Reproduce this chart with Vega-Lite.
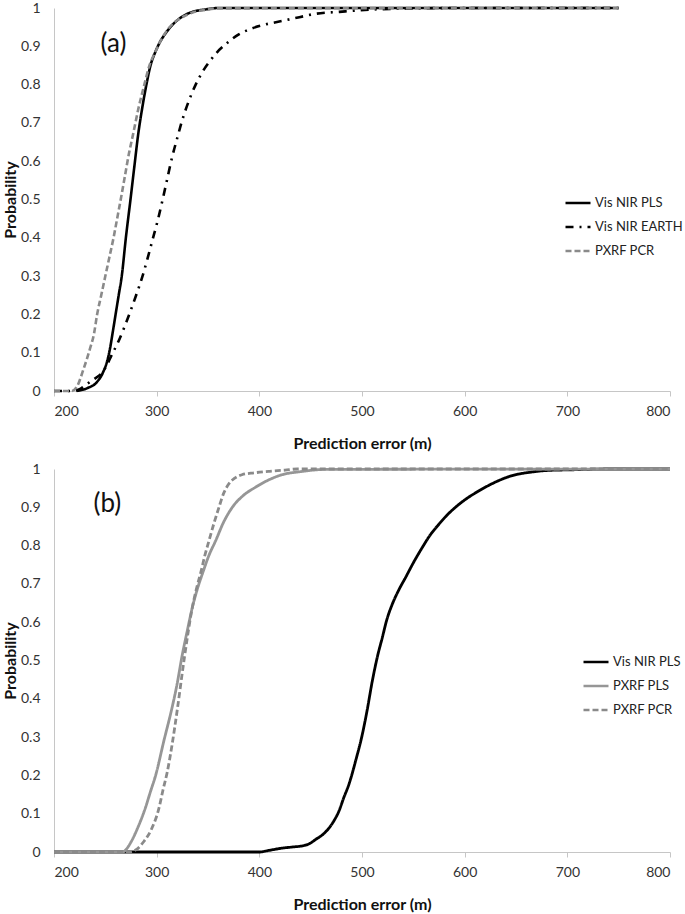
{
  "$schema": "https://vega.github.io/schema/vega-lite/v6.json",
  "padding": {"left": 2, "top": 1, "right": 0, "bottom": 5},
  "bounds": "flush",
  "spacing": 78,
  "config": {
    "font": "Lato",
    "view": {"stroke": null},
    "axis": {"grid": false, "domainColor": "#c6c6c6", "tickColor": "#c6c6c6", "labelFont": "Lato", "labelFontSize": 14, "labelColor": "#333333", "labelOverlap": false, "titleFont": "Lato", "titleFontSize": 16, "titleFontWeight": "bold", "titleColor": "#111111"},
    "legend": {"orient": "none", "symbolType": "stroke", "symbolSize": 625, "symbolStrokeWidth": 2.5, "labelFont": "Lato", "labelFontSize": 13, "labelColor": "#222222", "labelOffset": 3, "rowPadding": 3, "padding": 0, "title": null, "labelLimit": 0}
  },
  "datasets": {
    "top": [
      {"s": "Vis NIR PLS", "e": 222, "p": 0}, {"s": "Vis NIR PLS", "e": 232, "p": 0.007}, {"s": "Vis NIR PLS", "e": 242, "p": 0.024}, {"s": "Vis NIR PLS", "e": 248, "p": 0.05}, {"s": "Vis NIR PLS", "e": 252, "p": 0.08}, {"s": "Vis NIR PLS", "e": 254.5, "p": 0.11}, {"s": "Vis NIR PLS", "e": 257, "p": 0.15}, {"s": "Vis NIR PLS", "e": 260, "p": 0.2}, {"s": "Vis NIR PLS", "e": 263, "p": 0.25}, {"s": "Vis NIR PLS", "e": 266, "p": 0.3}, {"s": "Vis NIR PLS", "e": 270, "p": 0.4}, {"s": "Vis NIR PLS", "e": 274.5, "p": 0.5}, {"s": "Vis NIR PLS", "e": 278, "p": 0.58}, {"s": "Vis NIR PLS", "e": 282, "p": 0.67}, {"s": "Vis NIR PLS", "e": 286, "p": 0.74}, {"s": "Vis NIR PLS", "e": 290, "p": 0.8}, {"s": "Vis NIR PLS", "e": 294, "p": 0.85}, {"s": "Vis NIR PLS", "e": 299, "p": 0.887}, {"s": "Vis NIR PLS", "e": 304, "p": 0.915}, {"s": "Vis NIR PLS", "e": 309, "p": 0.935}, {"s": "Vis NIR PLS", "e": 315, "p": 0.955}, {"s": "Vis NIR PLS", "e": 322, "p": 0.972}, {"s": "Vis NIR PLS", "e": 330, "p": 0.985}, {"s": "Vis NIR PLS", "e": 338, "p": 0.992}, {"s": "Vis NIR PLS", "e": 347, "p": 0.996}, {"s": "Vis NIR PLS", "e": 360, "p": 1}, {"s": "Vis NIR PLS", "e": 750, "p": 1},
      {"s": "Vis NIR EARTH", "e": 200, "p": 0}, {"s": "Vis NIR EARTH", "e": 218, "p": 0}, {"s": "Vis NIR EARTH", "e": 226, "p": 0.006}, {"s": "Vis NIR EARTH", "e": 232, "p": 0.018}, {"s": "Vis NIR EARTH", "e": 239, "p": 0.031}, {"s": "Vis NIR EARTH", "e": 246, "p": 0.045}, {"s": "Vis NIR EARTH", "e": 251, "p": 0.065}, {"s": "Vis NIR EARTH", "e": 256, "p": 0.093}, {"s": "Vis NIR EARTH", "e": 262, "p": 0.125}, {"s": "Vis NIR EARTH", "e": 268, "p": 0.163}, {"s": "Vis NIR EARTH", "e": 274, "p": 0.205}, {"s": "Vis NIR EARTH", "e": 280, "p": 0.25}, {"s": "Vis NIR EARTH", "e": 286, "p": 0.298}, {"s": "Vis NIR EARTH", "e": 291, "p": 0.345}, {"s": "Vis NIR EARTH", "e": 296, "p": 0.395}, {"s": "Vis NIR EARTH", "e": 301, "p": 0.445}, {"s": "Vis NIR EARTH", "e": 305.5, "p": 0.496}, {"s": "Vis NIR EARTH", "e": 310, "p": 0.55}, {"s": "Vis NIR EARTH", "e": 315, "p": 0.61}, {"s": "Vis NIR EARTH", "e": 320, "p": 0.66}, {"s": "Vis NIR EARTH", "e": 325, "p": 0.708}, {"s": "Vis NIR EARTH", "e": 331, "p": 0.755}, {"s": "Vis NIR EARTH", "e": 338, "p": 0.8}, {"s": "Vis NIR EARTH", "e": 345, "p": 0.835}, {"s": "Vis NIR EARTH", "e": 352, "p": 0.862}, {"s": "Vis NIR EARTH", "e": 359, "p": 0.885}, {"s": "Vis NIR EARTH", "e": 367, "p": 0.905}, {"s": "Vis NIR EARTH", "e": 380, "p": 0.931}, {"s": "Vis NIR EARTH", "e": 393, "p": 0.947}, {"s": "Vis NIR EARTH", "e": 406, "p": 0.957}, {"s": "Vis NIR EARTH", "e": 422, "p": 0.966}, {"s": "Vis NIR EARTH", "e": 439, "p": 0.976}, {"s": "Vis NIR EARTH", "e": 455, "p": 0.985}, {"s": "Vis NIR EARTH", "e": 478, "p": 0.99}, {"s": "Vis NIR EARTH", "e": 510, "p": 0.996}, {"s": "Vis NIR EARTH", "e": 552, "p": 0.999}, {"s": "Vis NIR EARTH", "e": 600, "p": 1}, {"s": "Vis NIR EARTH", "e": 750, "p": 1},
      {"s": "PXRF PCR", "e": 200, "p": 0}, {"s": "PXRF PCR", "e": 217, "p": 0}, {"s": "PXRF PCR", "e": 222, "p": 0.01}, {"s": "PXRF PCR", "e": 229, "p": 0.059}, {"s": "PXRF PCR", "e": 235, "p": 0.11}, {"s": "PXRF PCR", "e": 239, "p": 0.15}, {"s": "PXRF PCR", "e": 242, "p": 0.2}, {"s": "PXRF PCR", "e": 246, "p": 0.25}, {"s": "PXRF PCR", "e": 250, "p": 0.3}, {"s": "PXRF PCR", "e": 254, "p": 0.35}, {"s": "PXRF PCR", "e": 258, "p": 0.4}, {"s": "PXRF PCR", "e": 261.5, "p": 0.45}, {"s": "PXRF PCR", "e": 265, "p": 0.5}, {"s": "PXRF PCR", "e": 269, "p": 0.56}, {"s": "PXRF PCR", "e": 273, "p": 0.62}, {"s": "PXRF PCR", "e": 277, "p": 0.67}, {"s": "PXRF PCR", "e": 282, "p": 0.735}, {"s": "PXRF PCR", "e": 288, "p": 0.8}, {"s": "PXRF PCR", "e": 293, "p": 0.85}, {"s": "PXRF PCR", "e": 299, "p": 0.887}, {"s": "PXRF PCR", "e": 305, "p": 0.92}, {"s": "PXRF PCR", "e": 312, "p": 0.948}, {"s": "PXRF PCR", "e": 320, "p": 0.968}, {"s": "PXRF PCR", "e": 328, "p": 0.98}, {"s": "PXRF PCR", "e": 337, "p": 0.99}, {"s": "PXRF PCR", "e": 347, "p": 0.995}, {"s": "PXRF PCR", "e": 360, "p": 0.999}, {"s": "PXRF PCR", "e": 750, "p": 1}
    ],
    "bottom": [
      {"s": "Vis NIR PLS", "e": 200, "p": 0}, {"s": "Vis NIR PLS", "e": 400, "p": 0}, {"s": "Vis NIR PLS", "e": 409, "p": 0.004}, {"s": "Vis NIR PLS", "e": 422, "p": 0.01}, {"s": "Vis NIR PLS", "e": 432, "p": 0.013}, {"s": "Vis NIR PLS", "e": 442, "p": 0.016}, {"s": "Vis NIR PLS", "e": 449, "p": 0.022}, {"s": "Vis NIR PLS", "e": 455, "p": 0.033}, {"s": "Vis NIR PLS", "e": 462, "p": 0.046}, {"s": "Vis NIR PLS", "e": 468, "p": 0.063}, {"s": "Vis NIR PLS", "e": 473, "p": 0.083}, {"s": "Vis NIR PLS", "e": 477.6, "p": 0.107}, {"s": "Vis NIR PLS", "e": 482, "p": 0.14}, {"s": "Vis NIR PLS", "e": 487.3, "p": 0.177}, {"s": "Vis NIR PLS", "e": 494, "p": 0.24}, {"s": "Vis NIR PLS", "e": 500.3, "p": 0.307}, {"s": "Vis NIR PLS", "e": 505, "p": 0.37}, {"s": "Vis NIR PLS", "e": 510, "p": 0.446}, {"s": "Vis NIR PLS", "e": 515, "p": 0.51}, {"s": "Vis NIR PLS", "e": 519.8, "p": 0.56}, {"s": "Vis NIR PLS", "e": 524, "p": 0.605}, {"s": "Vis NIR PLS", "e": 529.5, "p": 0.647}, {"s": "Vis NIR PLS", "e": 536, "p": 0.685}, {"s": "Vis NIR PLS", "e": 542.5, "p": 0.717}, {"s": "Vis NIR PLS", "e": 550, "p": 0.755}, {"s": "Vis NIR PLS", "e": 558.7, "p": 0.795}, {"s": "Vis NIR PLS", "e": 566, "p": 0.826}, {"s": "Vis NIR PLS", "e": 575, "p": 0.856}, {"s": "Vis NIR PLS", "e": 583, "p": 0.88}, {"s": "Vis NIR PLS", "e": 591, "p": 0.9}, {"s": "Vis NIR PLS", "e": 602, "p": 0.923}, {"s": "Vis NIR PLS", "e": 614, "p": 0.943}, {"s": "Vis NIR PLS", "e": 624, "p": 0.958}, {"s": "Vis NIR PLS", "e": 633.4, "p": 0.97}, {"s": "Vis NIR PLS", "e": 643, "p": 0.98}, {"s": "Vis NIR PLS", "e": 653, "p": 0.987}, {"s": "Vis NIR PLS", "e": 665, "p": 0.992}, {"s": "Vis NIR PLS", "e": 679, "p": 0.996}, {"s": "Vis NIR PLS", "e": 705, "p": 0.998}, {"s": "Vis NIR PLS", "e": 740, "p": 1}, {"s": "Vis NIR PLS", "e": 800, "p": 1},
      {"s": "PXRF PLS", "e": 200, "p": 0}, {"s": "PXRF PLS", "e": 267, "p": 0}, {"s": "PXRF PLS", "e": 270, "p": 0.006}, {"s": "PXRF PLS", "e": 275, "p": 0.026}, {"s": "PXRF PLS", "e": 282, "p": 0.066}, {"s": "PXRF PLS", "e": 289, "p": 0.115}, {"s": "PXRF PLS", "e": 294, "p": 0.158}, {"s": "PXRF PLS", "e": 299, "p": 0.2}, {"s": "PXRF PLS", "e": 307, "p": 0.29}, {"s": "PXRF PLS", "e": 315, "p": 0.377}, {"s": "PXRF PLS", "e": 320, "p": 0.44}, {"s": "PXRF PLS", "e": 324.4, "p": 0.507}, {"s": "PXRF PLS", "e": 330, "p": 0.58}, {"s": "PXRF PLS", "e": 334.7, "p": 0.638}, {"s": "PXRF PLS", "e": 340, "p": 0.69}, {"s": "PXRF PLS", "e": 345, "p": 0.73}, {"s": "PXRF PLS", "e": 351, "p": 0.775}, {"s": "PXRF PLS", "e": 357.5, "p": 0.813}, {"s": "PXRF PLS", "e": 365, "p": 0.86}, {"s": "PXRF PLS", "e": 373.7, "p": 0.9}, {"s": "PXRF PLS", "e": 384, "p": 0.93}, {"s": "PXRF PLS", "e": 396, "p": 0.952}, {"s": "PXRF PLS", "e": 408, "p": 0.97}, {"s": "PXRF PLS", "e": 422, "p": 0.985}, {"s": "PXRF PLS", "e": 440, "p": 0.993}, {"s": "PXRF PLS", "e": 465, "p": 0.999}, {"s": "PXRF PLS", "e": 800, "p": 1},
      {"s": "PXRF PCR", "e": 200, "p": 0}, {"s": "PXRF PCR", "e": 275, "p": 0}, {"s": "PXRF PCR", "e": 280, "p": 0.006}, {"s": "PXRF PCR", "e": 287.7, "p": 0.028}, {"s": "PXRF PCR", "e": 295, "p": 0.06}, {"s": "PXRF PCR", "e": 302.3, "p": 0.115}, {"s": "PXRF PCR", "e": 306, "p": 0.16}, {"s": "PXRF PCR", "e": 310.4, "p": 0.21}, {"s": "PXRF PCR", "e": 315, "p": 0.28}, {"s": "PXRF PCR", "e": 320, "p": 0.37}, {"s": "PXRF PCR", "e": 326.6, "p": 0.5}, {"s": "PXRF PCR", "e": 334.7, "p": 0.638}, {"s": "PXRF PCR", "e": 339, "p": 0.69}, {"s": "PXRF PCR", "e": 343, "p": 0.73}, {"s": "PXRF PCR", "e": 347, "p": 0.775}, {"s": "PXRF PCR", "e": 351, "p": 0.813}, {"s": "PXRF PCR", "e": 356, "p": 0.86}, {"s": "PXRF PCR", "e": 360.7, "p": 0.9}, {"s": "PXRF PCR", "e": 365, "p": 0.935}, {"s": "PXRF PCR", "e": 370, "p": 0.96}, {"s": "PXRF PCR", "e": 376, "p": 0.976}, {"s": "PXRF PCR", "e": 383, "p": 0.985}, {"s": "PXRF PCR", "e": 395, "p": 0.99}, {"s": "PXRF PCR", "e": 410, "p": 0.994}, {"s": "PXRF PCR", "e": 425, "p": 0.997}, {"s": "PXRF PCR", "e": 437, "p": 1}, {"s": "PXRF PCR", "e": 800, "p": 1}
    ]
  },
  "resolve": {"scale": {"color": "independent", "strokeDash": "independent"}, "legend": {"color": "independent", "strokeDash": "independent"}},
  "vconcat": [
    {
      "width": 616, "height": 383,
      "layer": [
        {
          "data": {"name": "top"},
          "mark": {"type": "line", "strokeWidth": 2.6, "interpolate": "monotone"},
          "encoding": {
            "x": {"field": "e", "type": "quantitative", "scale": {"domain": [200, 800], "nice": false}, "axis": {"values": [200, 300, 400, 500, 600, 700, 800], "title": "Prediction error (m)", "tickSize": 5, "labelPadding": 8, "titlePadding": 17, "labelOverlap": false}},
            "y": {"field": "p", "type": "quantitative", "scale": {"domain": [0, 1], "nice": false}, "axis": {"values": [0, 0.1, 0.2, 0.3, 0.4, 0.5, 0.6, 0.7, 0.8, 0.9, 1], "format": ".1~f", "title": "Probability", "ticks": false, "labelPadding": 14, "titlePadding": 2, "labelOverlap": false, "tickCount": 11}},
            "color": {"field": "s", "type": "nominal", "scale": {"domain": ["Vis NIR PLS", "Vis NIR EARTH", "PXRF PCR"], "range": ["#000000", "#000000", "#8a8a8a"]}, "legend": {"legendX": 510, "legendY": 181}},
            "strokeDash": {"field": "s", "type": "nominal", "scale": {"domain": ["Vis NIR PLS", "Vis NIR EARTH", "PXRF PCR"], "range": [[1, 0], [8, 6, 2, 6], [6, 3]]}, "legend": {"legendX": 510, "legendY": 181}}
          }
        },
        {
          "data": {"values": [{"t": "(a)", "e": 258, "p": 0.905}]},
          "mark": {"type": "text", "fontSize": 26, "font": "Lato", "color": "#111111"},
          "encoding": {"x": {"field": "e", "type": "quantitative"}, "y": {"field": "p", "type": "quantitative"}, "text": {"field": "t"}}
        }
      ]
    },
    {
      "width": 616, "height": 383,
      "layer": [
        {
          "data": {"name": "bottom"},
          "mark": {"type": "line", "strokeWidth": 2.8, "interpolate": "monotone"},
          "encoding": {
            "x": {"field": "e", "type": "quantitative", "scale": {"domain": [200, 800], "nice": false}, "axis": {"values": [200, 300, 400, 500, 600, 700, 800], "title": "Prediction error (m)", "tickSize": 5, "labelPadding": 8, "titlePadding": 17, "labelOverlap": false}},
            "y": {"field": "p", "type": "quantitative", "scale": {"domain": [0, 1], "nice": false}, "axis": {"values": [0, 0.1, 0.2, 0.3, 0.4, 0.5, 0.6, 0.7, 0.8, 0.9, 1], "format": ".1~f", "title": "Probability", "ticks": false, "labelPadding": 14, "titlePadding": 2, "labelOverlap": false, "tickCount": 11}},
            "color": {"field": "s", "type": "nominal", "scale": {"domain": ["Vis NIR PLS", "PXRF PLS", "PXRF PCR"], "range": ["#000000", "#969696", "#8a8a8a"]}, "legend": {"legendX": 528, "legendY": 179}},
            "strokeDash": {"field": "s", "type": "nominal", "scale": {"domain": ["Vis NIR PLS", "PXRF PLS", "PXRF PCR"], "range": [[1, 0], [1, 0], [6, 3]]}, "legend": {"legendX": 528, "legendY": 179}}
          }
        },
        {
          "data": {"values": [{"t": "(b)", "e": 252, "p": 0.909}]},
          "mark": {"type": "text", "fontSize": 26, "font": "Lato", "color": "#111111"},
          "encoding": {"x": {"field": "e", "type": "quantitative"}, "y": {"field": "p", "type": "quantitative"}, "text": {"field": "t"}}
        }
      ]
    }
  ]
}
